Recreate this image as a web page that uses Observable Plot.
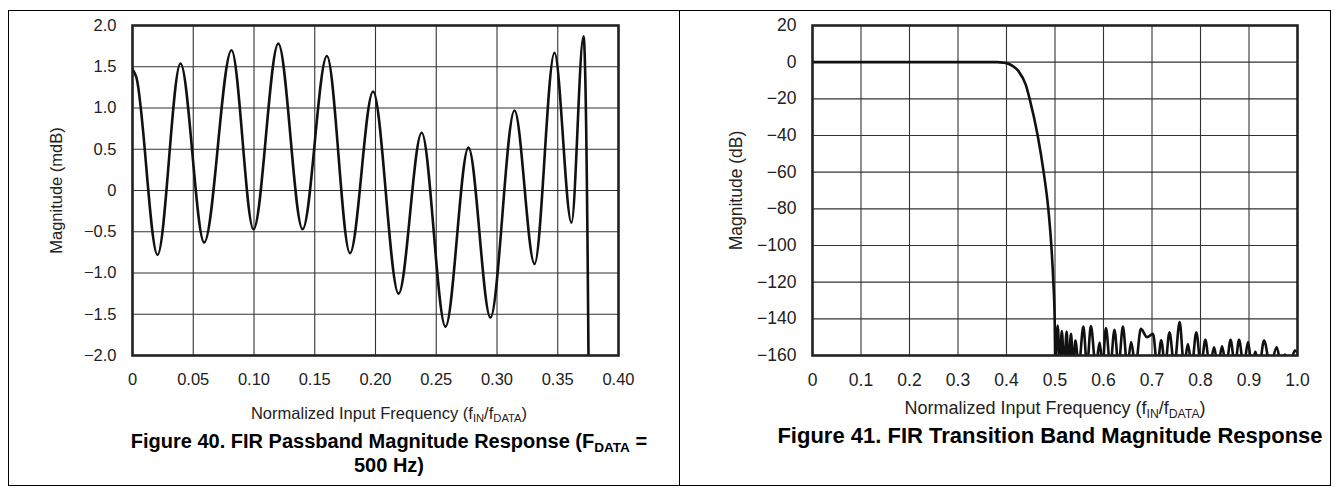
<!DOCTYPE html>
<html>
<head>
<meta charset="utf-8">
<script src="https://cdn.jsdelivr.net/npm/d3@7"></script>
<script src="https://cdn.jsdelivr.net/npm/@observablehq/plot@0.6"></script>
<style>
  body { margin: 0; background: #fff; }
  #wrap { position: relative; width: 1338px; height: 495px; font-family: "Liberation Sans", Arial, Helvetica, sans-serif; color: #111; }
  .abs { position: absolute; }
  .title { font-family: "Liberation Sans", Arial, sans-serif; font-weight: bold; line-height: 24px; text-align: center; color: #000; white-space: nowrap; }
  .xlab { text-align: center; white-space: nowrap; color: #222; line-height: 18px; }
  sub { font-size: 0.68em; vertical-align: -0.3em; line-height: 0; }
</style>
</head>
<body>
<div id="wrap">
  <div id="left" class="abs" style="left:0;top:0;width:679px;height:400px"></div>
  <div id="right" class="abs" style="left:679px;top:0;width:651px;height:400px"></div>
  <div class="abs" style="left:8px;top:10px;width:1321px;height:474px;border:1px solid #000;z-index:2;pointer-events:none"></div>
  <div class="abs" style="left:679px;top:10px;width:1px;height:476px;background:#000;z-index:2"></div>
  <div class="abs xlab" style="left:189px;width:400px;top:404px;font-size:16.5px">Normalized Input Frequency (f<sub>IN</sub>/f<sub>DATA</sub>)</div>
  <div class="abs title" style="left:89px;width:600px;top:429px;font-size:20px">Figure 40. FIR Passband Magnitude Response (F<sub>DATA</sub> =<br>500 Hz)</div>
  <div class="abs xlab" style="left:855px;width:400px;top:399px;font-size:18px">Normalized Input Frequency (f<sub>IN</sub>/f<sub>DATA</sub>)</div>
  <div class="abs title" style="left:750px;width:600px;top:424px;font-size:22px">Figure 41. FIR Transition Band Magnitude Response</div>
</div>
<script>
// ---- Figure 40: passband ripple (mdB) ----
const passbandFreq = [0, 0.003, 0.0206, 0.0395, 0.059, 0.0815, 0.0996, 0.120, 0.140, 0.160, 0.179, 0.198, 0.219, 0.238, 0.2576, 0.2765, 0.2946, 0.3144, 0.3309, 0.3473, 0.3613, 0.3712, 0.3753, 0.3755];
const passbandMag  = [1.47, 1.38, -0.78, 1.54, -0.63, 1.70, -0.47, 1.78, -0.47, 1.63, -0.76, 1.20, -1.25, 0.70, -1.65, 0.52, -1.54, 0.97, -0.89, 1.67, -0.39, 1.87, -2.0, -2.6];
const leftXTicks = [0, 0.05, 0.10, 0.15, 0.20, 0.25, 0.30, 0.35, 0.40];
const leftXLabels = ["0", "0.05", "0.10", "0.15", "0.20", "0.25", "0.30", "0.35", "0.40"];
const leftYTicks = [-2, -1.5, -1, -0.5, 0, 0.5, 1, 1.5, 2];
const leftYLabels = ["\u22122.0", "\u22121.5", "\u22121.0", "\u22120.5", "0", "0.5", "1.0", "1.5", "2.0"];

// ---- Figure 41: transition band (dB) ----
const transitionFreq = [0, 0.38, 0.395, 0.405, 0.415, 0.425, 0.440, 0.4477, 0.4643, 0.4766, 0.4862, 0.4924, 0.4966, 0.4993, 0.5000, 0.5004,
  0.5055, 0.510, 0.514, 0.519, 0.524, 0.528, 0.533, 0.5375, 0.542, 0.549, 0.5585, 0.566, 0.574, 0.584, 0.592, 0.598,
  0.605, 0.614, 0.6226, 0.631, 0.640, 0.649, 0.657, 0.666, 0.677, 0.690, 0.702, 0.711, 0.719, 0.727, 0.736, 0.746,
  0.757, 0.766, 0.774, 0.782, 0.7913, 0.801, 0.810, 0.819, 0.828, 0.836, 0.8444, 0.853, 0.862, 0.871, 0.8795, 0.889,
  0.898, 0.906, 0.913, 0.921, 0.931, 0.944, 0.957, 0.966, 0.974, 0.985, 0.9945, 1.0];
const transitionMag = [0, 0, -0.3, -1.0, -2.5, -5.0, -12.5, -20, -40, -60, -80, -100, -120, -140, -155, -166,
  -143.6, -166, -146.7, -166, -147, -166, -148.2, -166, -151.8, -166, -144.2, -166, -144, -166, -153, -166,
  -145, -166, -146, -166, -144.2, -166, -152.7, -166, -145.5, -150, -148.2, -166, -151.7, -166, -147.3, -166,
  -141.8, -166, -153.8, -166, -147.3, -166, -151.5, -166, -155.5, -166, -155, -166, -151.5, -166, -151.5, -166,
  -152.7, -166, -158, -166, -151.8, -166, -155.5, -164, -159.5, -164, -157.3, -158.5];
const rightXTicks = [0, 0.1, 0.2, 0.3, 0.4, 0.5, 0.6, 0.7, 0.8, 0.9, 1.0];
const rightXLabels = ["0", "0.1", "0.2", "0.3", "0.4", "0.5", "0.6", "0.7", "0.8", "0.9", "1.0"];
const rightYTicks = [-160, -140, -120, -100, -80, -60, -40, -20, 0, 20];
const rightYLabels = ["\u2212160", "\u2212140", "\u2212120", "\u2212100", "\u221280", "\u221260", "\u221240", "\u221220", "0", "20"];

const passband = passbandFreq.map((f, i) => ({f, m: passbandMag[i]}));
const transition = transitionFreq.map((f, i) => ({f, m: transitionMag[i]}));

function chart({data, width, marginLeft, marginRight, xDomain, yDomain, xTicks, xLabels, yTicks, yLabels, yLabel, labelOffset, fontSize}) {
  return Plot.plot({
    width, height: 400,
    marginLeft, marginRight, marginTop: 25, marginBottom: 45,
    style: {fontFamily: '"Liberation Sans", Arial, Helvetica, sans-serif', fontSize: fontSize + "px", background: "transparent", color: "#222", overflow: "visible"},
    x: {domain: xDomain},
    y: {domain: yDomain},
    marks: [
      Plot.gridX(xTicks, {stroke: "#333", strokeOpacity: 1, strokeWidth: 1.1}),
      Plot.gridY(yTicks, {stroke: "#333", strokeOpacity: 1, strokeWidth: 1.1}),
      Plot.axisX({ticks: xTicks, tickSize: 0, tickPadding: 18, tickFormat: (d) => xLabels[xTicks.indexOf(d)], label: null, fontSize}),
      Plot.axisY({ticks: yTicks, tickSize: 0, tickPadding: 16, tickFormat: (d) => yLabels[yTicks.indexOf(d)], label: yLabel, labelAnchor: "center", labelArrow: "none", labelOffset, fontSize}),
      Plot.line(data, {x: "f", y: "m", curve: "monotone-x", stroke: "#111", strokeWidth: 2.6, clip: true}),
      Plot.frame({stroke: "#222", strokeWidth: 2.6})
    ]
  });
}

document.getElementById("left").append(chart({
  data: passband, width: 679, marginLeft: 132, marginRight: 61,
  xDomain: [0, 0.4], yDomain: [-2, 2], xTicks: leftXTicks, xLabels: leftXLabels,
  yTicks: leftYTicks, yLabels: leftYLabels, yLabel: "Magnitude (mdB)", labelOffset: 82, fontSize: 16.5
}));
document.getElementById("right").append(chart({
  data: transition, width: 651, marginLeft: 133, marginRight: 33,
  xDomain: [0, 1], yDomain: [-160, 20], xTicks: rightXTicks, xLabels: rightXLabels,
  yTicks: rightYTicks, yLabels: rightYLabels, yLabel: "Magnitude (dB)", labelOffset: 83, fontSize: 17.5
}));
</script>
</body>
</html>
